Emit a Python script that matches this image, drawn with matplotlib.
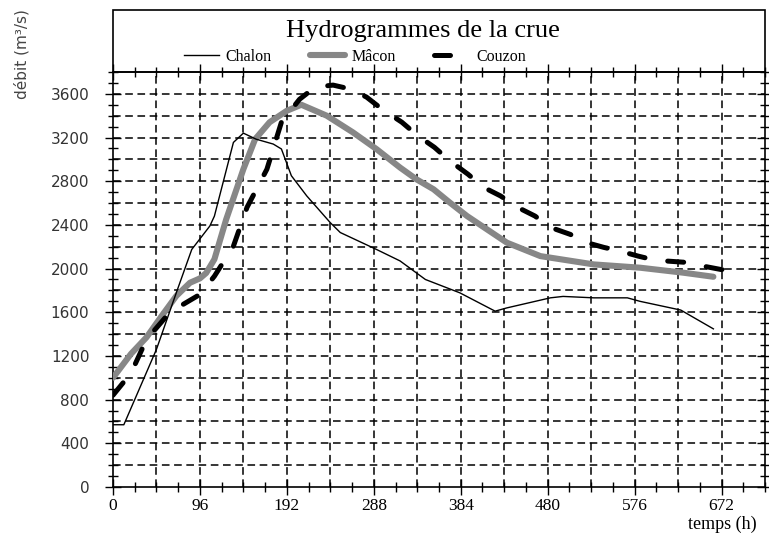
import matplotlib
matplotlib.use('Agg')
import matplotlib.pyplot as plt
from matplotlib.patches import Rectangle
from matplotlib.ticker import MultipleLocator
import numpy as np

# donnees
chalon_t = [0, 12, 48, 70, 87, 107, 112, 133, 144, 158, 177, 186, 197, 214, 240,
            251, 291, 317, 345, 383, 422, 435, 483, 497, 531, 568, 582, 627, 663]
chalon_q = [570, 570, 1260, 1780, 2175, 2390, 2480, 3155, 3240, 3185, 3140, 3095,
            2850, 2665, 2420, 2330, 2175, 2070, 1900, 1778, 1610, 1640, 1732, 1745,
            1732, 1732, 1700, 1620, 1448]

macon_t = [0, 20, 37, 55, 70, 85, 96, 103, 112, 125, 144, 157, 173, 192, 208, 236,
           265, 291, 317, 335, 354, 372, 391, 435, 472, 531, 582, 630, 663]
macon_q = [1000, 1220, 1370, 1580, 1750, 1870, 1910, 1960, 2085, 2450, 2910, 3185,
           3340, 3445, 3500, 3400, 3247, 3094, 2925, 2818, 2726, 2604, 2481, 2237,
           2114, 2038, 2008, 1962, 1925]

couzon_t = [0, 20, 37, 59, 74, 96, 112, 133, 148, 170, 186, 206, 223, 243, 262, 280,
            297, 319, 336, 355, 372, 392, 409, 428, 447, 466, 483, 505, 522, 542,
            560, 580, 595, 613, 634, 652, 671, 691]
couzon_q = [840, 1044, 1350, 1563, 1655, 1763, 1930, 2205, 2560, 2910, 3340, 3550,
            3660, 3680, 3644, 3570, 3460, 3340, 3220, 3110, 2986, 2864, 2745, 2665,
            2560, 2481, 2377, 2313, 2240, 2194, 2160, 2114, 2084, 2068, 2056, 2022,
            1992, 1976]

x_ticks = [0, 96, 192, 288, 384, 480, 576, 672]
y_ticks = [0, 400, 800, 1200, 1600, 2000, 2400, 2800, 3200, 3600]

serif = ['Liberation Serif', 'DejaVu Serif']

fig = plt.figure(figsize=(7.69, 5.38), dpi=100)
ax = fig.add_axes([0.1469, 0.0948, 0.8479, 0.7714])

ax.set_xlim(0, 720)
ax.set_ylim(0, 3800)

# grille en tirets
for yv in np.arange(200, 3800, 200):
    ax.axhline(yv, color='black', lw=1.1, ls=(0, (5, 3)), zorder=1)
for xv in np.arange(48, 720, 48):
    ax.axvline(xv, color='black', lw=1.1, ls=(0, (5, 3)), zorder=1)

ax.plot(chalon_t, chalon_q, color='black', lw=1.0, label='Chalon', zorder=4)
ax.plot(macon_t, macon_q, color='#878787', lw=4.4, solid_joinstyle='round',
        solid_capstyle='round', label='Mâcon', zorder=3)
ax.plot(couzon_t, couzon_q, color='black', lw=3.6, dashes=(3.2, 4.6),
        dash_capstyle='round', label='Couzon', zorder=5)

ax.xaxis.set_major_locator(MultipleLocator(96))
ax.xaxis.set_minor_locator(MultipleLocator(24))
ax.yaxis.set_major_locator(MultipleLocator(400))
ax.yaxis.set_minor_locator(MultipleLocator(100))
ax.set_xticks(x_ticks)
ax.set_yticks(y_ticks)

ax.tick_params(which='both', direction='inout', top=True, right=True, width=1.0,
               color='black')
ax.tick_params(which='major', length=12)
ax.tick_params(which='minor', length=7)
ax.tick_params(axis='y', labelsize=11, labelcolor='#333333', pad=11)
ax.tick_params(axis='x', labelsize=12.5, pad=2)
for lab in ax.get_xticklabels():
    lab.set_family(serif)
for sp in ax.spines.values():
    sp.set_linewidth(1.2)

# cadre du titre
fig.patches.append(Rectangle((0.1469, 0.866), 0.8479, 0.115, transform=fig.transFigure,
                             fill=False, lw=1.2, edgecolor='black'))
fig.text(0.55, 0.942, 'Hydrogrammes de la crue', family=serif, fontsize=19,
         ha='center', va='center')

leg = fig.legend(loc='center', bbox_to_anchor=(0.4616, 0.894), ncol=3, frameon=False,
                 prop={'family': serif, 'size': 11.5}, handlelength=2.2,
                 handletextpad=0.4, columnspacing=2.4, borderpad=0, borderaxespad=0)

fig.text(0.028, 0.90, 'débit (m³/s)', rotation=90, fontsize=11, color='#444444',
         ha='center', va='center')
fig.text(0.984, 0.025, 'temps (h)', family=serif, fontsize=13, ha='right',
         va='center')

fig.savefig('out.png', dpi=100)
